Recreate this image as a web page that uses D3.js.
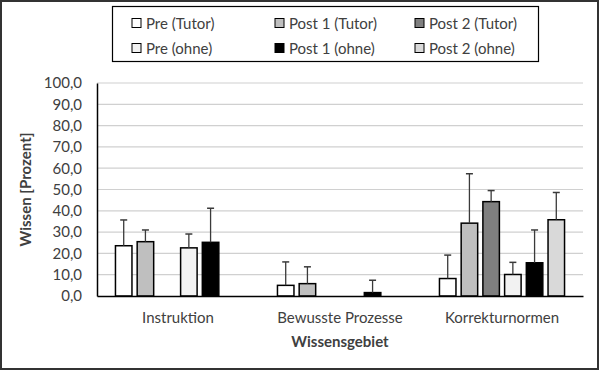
<!DOCTYPE html>
<html><head>
<meta charset="utf-8">
<script src="https://d3js.org/d3.v7.min.js"></script>
<style>
  body { margin: 0; background: #fff; }
  text { font-family: Lato, "Open Sans", sans-serif; fill: #404040; }
</style>
</head>
<body>
<svg id="chart" width="600" height="371"></svg>
<script>
  // data
  const categories = ["Instruktion", "Bewusste Prozesse", "Korrekturnormen"];
  const seriesNames = ["Pre (Tutor)", "Post 1 (Tutor)", "Post 2 (Tutor)", "Pre (ohne)", "Post 1 (ohne)", "Post 2 (ohne)"];
  const seriesColors = ["#ffffff", "#bfbfbf", "#7f7f7f", "#f2f2f2", "#000000", "#d9d9d9"];
  // values per series, one per category
  const means = [
    [23.6, 5.0, 8.2],
    [25.5, 5.8, 34.2],
    [0, 0, 44.3],
    [22.6, 0, 10.1],
    [25.2, 1.6, 15.6],
    [0, 0, 35.8]
  ];
  const sds = [
    [12.1, 11.0, 11.0],
    [5.5, 7.9, 23.2],
    [0, 0, 5.2],
    [6.5, 0, 5.7],
    [16.0, 5.8, 15.4],
    [0, 0, 12.8]
  ];
  const yTicks = d3.range(0, 101, 10);

  const svg = d3.select("svg#chart");
  const margin = {top: 83, right: 17, bottom: 75, left: 97};
  const width = 600, height = 371;
  const chartWidth = width - margin.left - margin.right;
  const chartHeight = height - margin.top - margin.bottom;

  // outer border
  svg.append("rect").attr("x", 1).attr("y", 1).attr("width", 597).attr("height", 368)
     .attr("fill", "none").attr("stroke", "#333").attr("stroke-width", 2);

  const chart = svg.append("g")
                   .attr("transform", "translate(" + margin.left + "," + margin.top + ")");

  const x = d3.scaleBand().domain(categories).range([0, chartWidth]).paddingInner(0).paddingOuter(0);
  const xSeries = d3.scaleBand().domain(seriesNames).range([0, x.bandwidth()])
                    .paddingInner(0.24).paddingOuter(0.85);
  const y = d3.scaleLinear().domain([0, 100]).range([chartHeight, 0]);

  // gridlines
  chart.append("g").selectAll("line").data(yTicks.slice(1)).join("line")
       .attr("x1", 0).attr("x2", chartWidth)
       .attr("y1", d => y(d)).attr("y2", d => y(d))
       .attr("stroke", "#d0d0d0").attr("stroke-width", 1.2);

  // y axis
  const yAxis = chart.append("g")
       .call(d3.axisLeft(y).tickValues(yTicks).tickSize(0).tickPadding(15)
               .tickFormat(d => d3.format(".1f")(d).replace(".", ",")));
  yAxis.select(".domain").attr("stroke", "#000").attr("stroke-width", 1.5);
  yAxis.selectAll("text").style("font-size", "15px").attr("fill", "#404040");

  // bars
  const groups = chart.selectAll("g.series").data(seriesNames).join("g").attr("class", "series");
  groups.each(function(s, i) {
    const g = d3.select(this);
    const rows = categories.map((c, j) => ({c: c, m: means[i][j], sd: sds[i][j]})).filter(d => d.m > 0);
    g.selectAll("rect").data(rows).join("rect")
     .attr("x", d => x(d.c) + xSeries(s))
     .attr("y", d => y(d.m))
     .attr("width", xSeries.bandwidth())
     .attr("height", d => y(0) - y(d.m))
     .attr("fill", seriesColors[i])
     .attr("stroke", "#000").attr("stroke-width", 1.5);
    const eb = g.selectAll("g.err").data(rows.filter(d => d.sd > 0)).join("g").attr("class", "err");
    eb.append("line")
      .attr("x1", d => x(d.c) + xSeries(s) + xSeries.bandwidth() / 2)
      .attr("x2", d => x(d.c) + xSeries(s) + xSeries.bandwidth() / 2)
      .attr("y1", d => y(d.m)).attr("y2", d => y(d.m + d.sd))
      .attr("stroke", "#3a3a3a").attr("stroke-width", 1.3);
    eb.append("line")
      .attr("x1", d => x(d.c) + xSeries(s) + xSeries.bandwidth() / 2 - 3.5)
      .attr("x2", d => x(d.c) + xSeries(s) + xSeries.bandwidth() / 2 + 3.5)
      .attr("y1", d => y(d.m + d.sd)).attr("y2", d => y(d.m + d.sd))
      .attr("stroke", "#3a3a3a").attr("stroke-width", 1.5);
  });

  // x axis
  const xAxis = chart.append("g").attr("transform", "translate(0," + chartHeight + ")")
       .call(d3.axisBottom(x).tickSize(0).tickPadding(16));
  xAxis.select(".domain").attr("stroke", "#000").attr("stroke-width", 1.5);
  xAxis.selectAll("text").style("font-size", "15px").attr("fill", "#404040");

  // axis titles
  svg.append("text").attr("x", margin.left + chartWidth / 2).attr("y", 347)
     .attr("text-anchor", "middle").style("font-size", "15px").style("font-weight", "bold")
     .text("Wissensgebiet");
  svg.append("text").attr("transform", "translate(31," + (margin.top + chartHeight / 2) + ") rotate(-90)")
     .attr("text-anchor", "middle").style("font-size", "15px").style("font-weight", "bold")
     .text("Wissen [Prozent]");

  // legend
  const legend = svg.append("g");
  legend.append("rect").attr("x", 112.5).attr("y", 6.5).attr("width", 426).attr("height", 55)
        .attr("fill", "#fff").attr("stroke", "#000").attr("stroke-width", 1.2);
  const colX = [132, 275, 415];
  const rowY = [23, 48];
  const items = legend.selectAll("g.item").data(seriesNames).join("g").attr("class", "item")
        .attr("transform", (d, i) => "translate(" + colX[i % 3] + "," + rowY[Math.floor(i / 3)] + ")");
  items.append("rect").attr("x", 0).attr("y", -4.5).attr("width", 9).attr("height", 9)
       .attr("fill", (d, i) => seriesColors[i]).attr("stroke", "#000").attr("stroke-width", 1);
  items.append("text").attr("x", 14).attr("y", 5.5).style("font-size", "15px").attr("fill", "#404040")
       .text(d => d);
</script>
</body>
</html>
